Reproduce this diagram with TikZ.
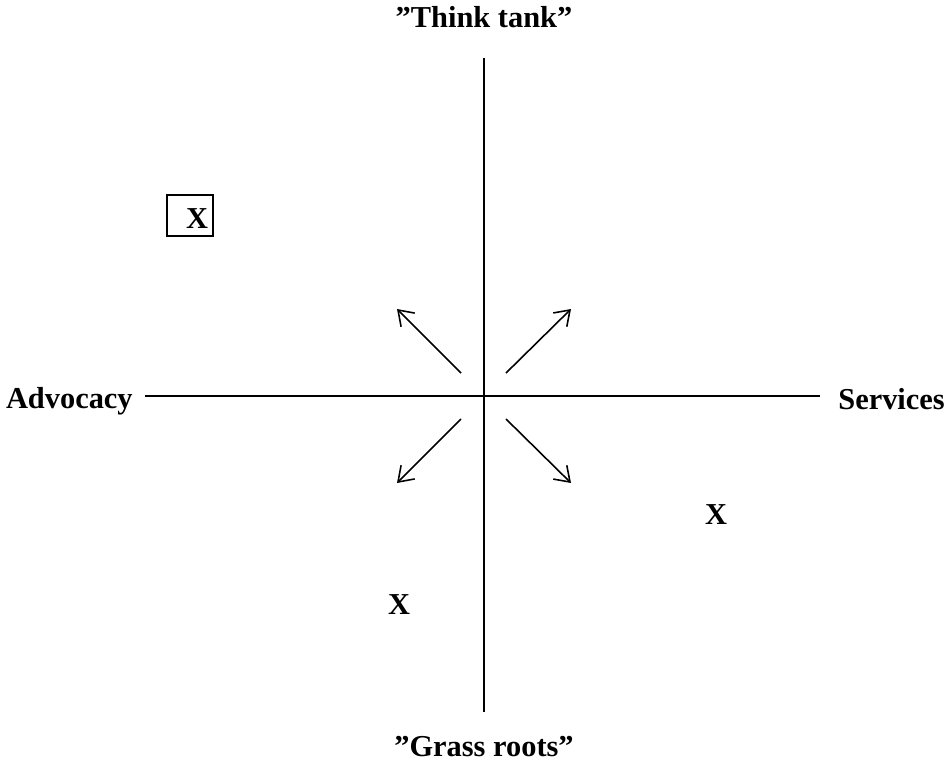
\documentclass[tikz,border=0pt]{standalone}
\usepackage{fontspec}
\setmainfont{Liberation Serif}
\usetikzlibrary{arrows.meta}
\begin{document}
\begin{tikzpicture}[x=0.02cm,y=-0.02cm,>={Straight Barb[length=8pt,width=11pt]},
  lbl/.style={font=\fontsize{17.3}{20}\selectfont\bfseries,inner sep=0pt}]
\useasboundingbox (0,0) rectangle (949,772);
% axes
\coordinate (top) at (484,58);
\coordinate (bot) at (484,712);
\coordinate (lft) at (145,396);
\coordinate (rgt) at (820,396);
\draw[line width=1.2pt] (top) -- (bot);
\draw[line width=1.2pt] (lft) -- (rgt);
\node[lbl,anchor=base] (thinktank) at (484,27) {”Think tank”};
\node[lbl,anchor=base] (grassroots) at (484,756) {”Grass roots”};
\node[lbl,anchor=base east] (advocacy) at (133,408) {Advocacy};
\node[lbl,anchor=base west] (services) at (838,409) {Services};
% arrows out of the centre
\coordinate (ul0) at (461,373); \coordinate (ul1) at (397,309);
\coordinate (ur0) at (506,373); \coordinate (ur1) at (571,309);
\coordinate (dl0) at (461,419); \coordinate (dl1) at (397,483);
\coordinate (dr0) at (506,419); \coordinate (dr1) at (571,483);
\draw[->,line width=0.9pt] (ul0) -- (ul1);
\draw[->,line width=0.9pt] (ur0) -- (ur1);
\draw[->,line width=0.9pt] (dl0) -- (dl1);
\draw[->,line width=0.9pt] (dr0) -- (dr1);
% marks
\draw[line width=0.9pt] (167,195) rectangle (213,236);
\node[lbl] (xbox) at (197,219) {X};
\node[lbl] (xright) at (716,515) {X};
\node[lbl] (xlow) at (399,605) {X};
\end{tikzpicture}
\end{document}
